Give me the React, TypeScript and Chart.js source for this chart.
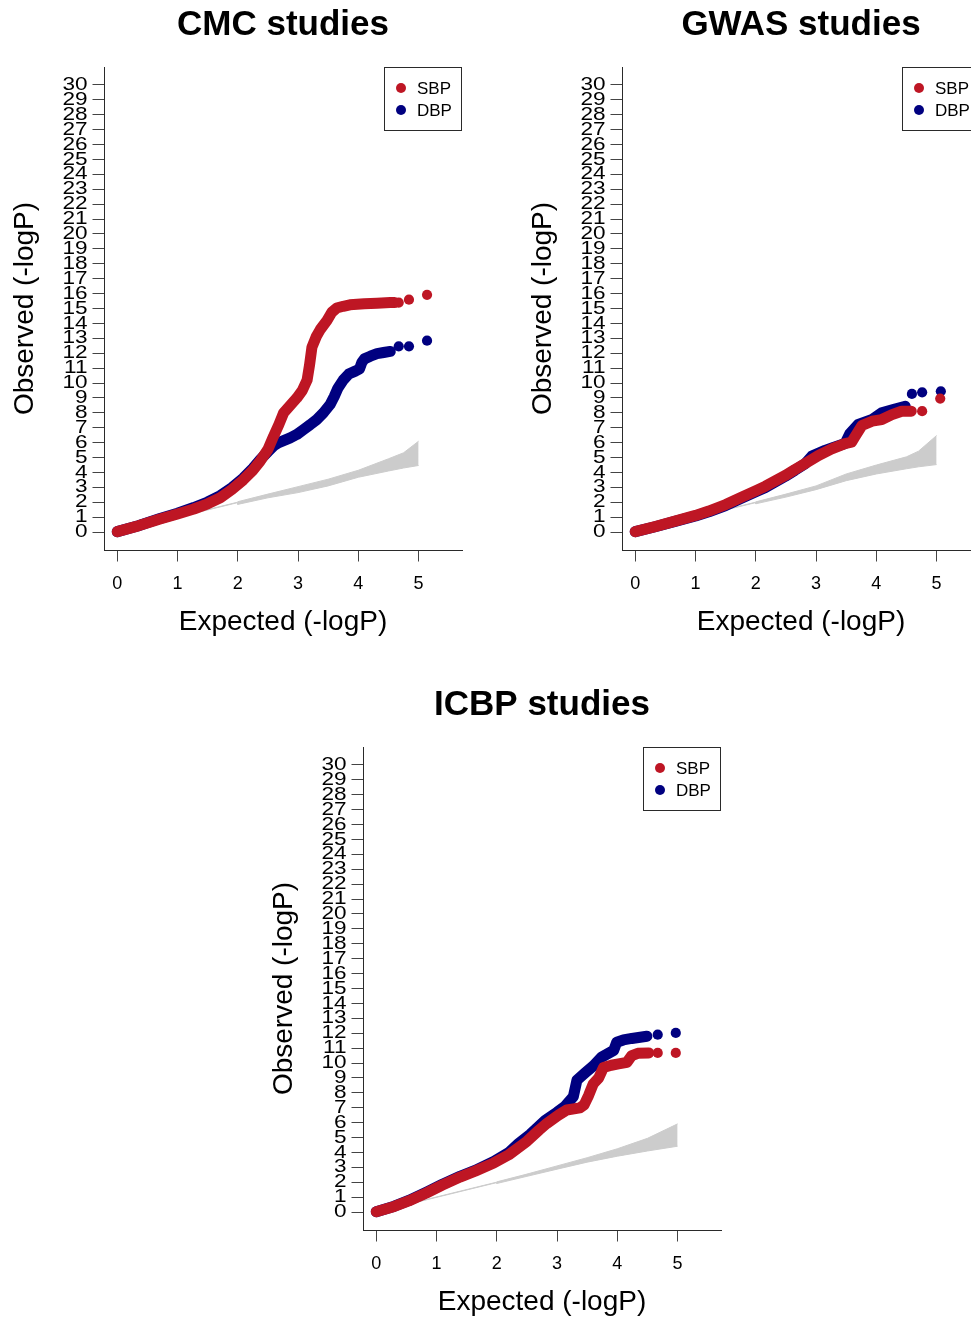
import React, { useEffect, useRef } from 'react';
import { Chart, registerables } from 'chart.js';

Chart.register(...registerables);

type Pt = [number, number];

const FONT = '"Liberation Sans", Arial, Helvetica, sans-serif';
const RED = 'rgb(190,22,36)';
const NAVY = 'rgb(0,0,128)';
const BAND = 'rgb(204,204,204)';
const AXIS = '#2a2a2a';

const X_TICKS = [0, 1, 2, 3, 4, 5];
const Y_TICKS = [0, 1, 2, 3, 4, 5, 6, 7, 8, 9, 10, 11, 12, 13, 14, 15, 16, 17, 18, 19, 20, 21, 22, 23, 24, 25, 26, 27, 28, 29, 30];
const SERIES_LABELS = ['SBP', 'DBP'];
const X_TITLE = 'Expected (-logP)';
const Y_TITLE = 'Observed (-logP)';

// ---- CMC studies ----
const CMC_SBP: Pt[] = [
  [0, 0.03], [0.35, 0.42], [0.71, 0.88], [1.0, 1.22], [1.27, 1.55], [1.5, 1.9], [1.71, 2.3],
  [1.9, 2.85], [2.09, 3.5], [2.25, 4.15], [2.37, 4.75], [2.5, 5.55], [2.59, 6.4], [2.68, 7.2],
  [2.76, 8.0], [2.87, 8.5], [2.98, 9.0], [3.07, 9.5], [3.15, 10.2], [3.19, 11.2], [3.23, 12.4],
  [3.3, 13.1], [3.37, 13.6], [3.48, 14.2], [3.56, 14.75], [3.64, 15.03], [3.75, 15.15],
  [3.86, 15.25], [4.1, 15.32], [4.31, 15.36], [4.53, 15.4], [4.6, 15.4],
];
const CMC_SBP_TAIL: Pt[] = [[4.67, 15.4], [4.84, 15.59], [5.14, 15.92]];
const CMC_DBP: Pt[] = [
  [0, 0.03], [0.35, 0.43], [0.71, 0.92], [1.0, 1.27], [1.27, 1.65], [1.5, 2.02], [1.71, 2.45],
  [1.9, 2.98], [2.09, 3.62], [2.25, 4.28], [2.37, 4.85], [2.5, 5.4], [2.6, 5.8], [2.68, 6.0],
  [2.8, 6.2], [2.87, 6.32], [2.98, 6.55], [3.09, 6.88], [3.2, 7.2], [3.31, 7.55], [3.42, 8.0],
  [3.53, 8.55], [3.6, 9.1], [3.66, 9.65], [3.75, 10.2], [3.84, 10.6], [3.95, 10.8], [4.02, 10.95],
  [4.06, 11.4], [4.1, 11.62], [4.2, 11.8], [4.31, 11.97], [4.42, 12.05], [4.53, 12.12],
];
const CMC_DBP_TAIL: Pt[] = [[4.67, 12.46], [4.84, 12.46], [5.14, 12.84]];
const CMC_BAND_X = [0, 1.99, 2.0, 2.5, 3.0, 3.5, 4.0, 4.5, 4.75, 5.0];
const CMC_BAND_LO = [0, 1.97, 1.86, 2.3, 2.65, 3.1, 3.68, 4.1, 4.3, 4.47];
const CMC_BAND_HI = [0.02, 2.0, 2.04, 2.55, 3.05, 3.55, 4.15, 4.92, 5.32, 6.1];

// ---- GWAS studies ----
const GWAS_SBP: Pt[] = [
  [0, 0.03], [0.33, 0.37], [0.66, 0.74], [1.0, 1.12], [1.22, 1.41], [1.5, 1.85], [1.77, 2.35],
  [2.0, 2.78], [2.16, 3.08], [2.49, 3.8], [2.65, 4.2], [2.82, 4.6], [3.04, 5.14], [3.26, 5.58],
  [3.48, 5.94], [3.59, 6.03], [3.65, 6.43], [3.76, 7.15], [3.93, 7.44], [4.09, 7.55], [4.26, 7.88],
  [4.42, 8.11], [4.58, 8.11],
];
const GWAS_SBP_TAIL: Pt[] = [[4.76, 8.11], [5.06, 8.96]];
const GWAS_DBP: Pt[] = [
  [0, 0.03], [0.33, 0.36], [0.66, 0.72], [1.0, 1.08], [1.22, 1.36], [1.5, 1.78], [1.77, 2.28],
  [2.0, 2.7], [2.16, 3.0], [2.49, 3.75], [2.65, 4.15], [2.82, 4.6], [2.93, 5.1], [3.15, 5.48],
  [3.3, 5.7], [3.48, 5.94], [3.56, 6.6], [3.7, 7.23], [3.93, 7.55], [4.09, 8.0], [4.31, 8.26],
  [4.48, 8.44],
];
const GWAS_DBP_TAIL: Pt[] = [[4.59, 9.27], [4.76, 9.38], [5.07, 9.45]];
const GWAS_BAND_X = [0, 1.99, 2.0, 2.5, 3.0, 3.5, 4.0, 4.5, 4.7, 5.0];
const GWAS_BAND_LO = [0, 1.97, 1.9, 2.35, 2.85, 3.45, 3.9, 4.25, 4.38, 4.53];
const GWAS_BAND_HI = [0.02, 2.0, 2.03, 2.55, 3.1, 3.9, 4.5, 5.05, 5.43, 6.48];

// ---- ICBP studies ----
const ICBP_SBP: Pt[] = [
  [0, 0.03], [0.3, 0.38], [0.54, 0.75], [0.84, 1.3], [1.09, 1.8], [1.39, 2.35], [1.64, 2.75],
  [1.95, 3.3], [2.2, 3.85], [2.5, 4.75], [2.7, 5.5], [2.83, 5.95], [3.02, 6.5], [3.16, 6.85],
  [3.38, 6.99], [3.45, 7.2], [3.52, 7.8], [3.6, 8.6], [3.69, 9.0], [3.77, 9.7], [3.9, 9.85],
  [4.02, 9.94], [4.16, 10.05], [4.24, 10.5], [4.34, 10.65], [4.52, 10.68],
];
const ICBP_SBP_TAIL: Pt[] = [[4.67, 10.68], [4.97, 10.68]];
const ICBP_DBP: Pt[] = [
  [0, 0.03], [0.3, 0.4], [0.54, 0.78], [0.84, 1.35], [1.09, 1.85], [1.39, 2.4], [1.64, 2.8],
  [1.95, 3.4], [2.2, 4.0], [2.36, 4.6], [2.55, 5.2], [2.8, 6.14], [3.0, 6.7], [3.13, 7.1],
  [3.27, 7.75], [3.33, 8.85], [3.47, 9.35], [3.6, 9.8], [3.74, 10.4], [3.94, 10.85], [3.99, 11.4],
  [4.1, 11.55], [4.24, 11.65], [4.49, 11.8],
];
const ICBP_DBP_TAIL: Pt[] = [[4.67, 11.9], [4.97, 12.02]];
const ICBP_BAND_X = [0, 1.99, 2.0, 2.5, 3.0, 3.5, 4.0, 4.5, 5.0];
const ICBP_BAND_LO = [0, 1.97, 1.92, 2.4, 2.88, 3.35, 3.75, 4.1, 4.42];
const ICBP_BAND_HI = [0.02, 2.0, 2.03, 2.55, 3.1, 3.65, 4.25, 4.95, 5.92];

interface PanelSpec {
  title: string;
  sbp: Pt[];
  sbpTail: Pt[];
  dbp: Pt[];
  dbpTail: Pt[];
  bandX: number[];
  bandLo: number[];
  bandHi: number[];
}

const PANELS: { spec: PanelSpec; left: number; top: number }[] = [
  {
    spec: { title: 'CMC studies', sbp: CMC_SBP, sbpTail: CMC_SBP_TAIL, dbp: CMC_DBP, dbpTail: CMC_DBP_TAIL, bandX: CMC_BAND_X, bandLo: CMC_BAND_LO, bandHi: CMC_BAND_HI },
    left: 0, top: 0,
  },
  {
    spec: { title: 'GWAS studies', sbp: GWAS_SBP, sbpTail: GWAS_SBP_TAIL, dbp: GWAS_DBP, dbpTail: GWAS_DBP_TAIL, bandX: GWAS_BAND_X, bandLo: GWAS_BAND_LO, bandHi: GWAS_BAND_HI },
    left: 518, top: 0,
  },
  {
    spec: { title: 'ICBP studies', sbp: ICBP_SBP, sbpTail: ICBP_SBP_TAIL, dbp: ICBP_DBP, dbpTail: ICBP_DBP_TAIL, bandX: ICBP_BAND_X, bandLo: ICBP_BAND_LO, bandHi: ICBP_BAND_HI },
    left: 259, top: 680,
  },
];

const W = 518;
const H = 680;
const TICK_LEN = 11.5;
const Y_LABEL_GAP = 5;
const Y_LABEL_STRETCH = 1.22;

const xy = (pts: Pt[]) => pts.map(([x, y]) => ({ x, y }));
const zipXY = (xs: number[], ys: number[]) => xs.map((x, i) => ({ x, y: ys[i] }));

// Boxed legend in the top-right corner of the plotting region
const boxLegend = {
  id: 'boxLegend',
  afterDatasetsDraw(chart: any, _args: any, opts: any) {
    const { ctx, chartArea } = chart;
    const items: { label: string; color: string }[] = opts.items || [];
    const w = 78;
    const h = 64;
    const x0 = chartArea.right - w;
    const y0 = chartArea.top;
    ctx.save();
    ctx.fillStyle = '#fff';
    ctx.fillRect(x0, y0, w, h);
    ctx.strokeStyle = AXIS;
    ctx.lineWidth = 1;
    ctx.strokeRect(x0 + 0.5, y0 + 0.5, w - 1, h - 1);
    ctx.font = `17px ${FONT}`;
    ctx.textBaseline = 'middle';
    ctx.textAlign = 'left';
    items.forEach((it, i) => {
      const cy = y0 + 21 + i * 22;
      ctx.beginPath();
      ctx.arc(x0 + 17, cy, 5, 0, Math.PI * 2);
      ctx.fillStyle = it.color;
      ctx.fill();
      ctx.fillStyle = '#000';
      ctx.fillText(it.label, x0 + 33, cy + 1);
    });
    ctx.restore();
  },
};

// Horizontal, slightly widened y tick labels placed at the y scale's own tick positions
const wideYLabels = {
  id: 'wideYLabels',
  afterDraw(chart: any) {
    const { ctx } = chart;
    const s = chart.scales.y;
    ctx.save();
    ctx.font = `18.5px ${FONT}`;
    ctx.fillStyle = '#000';
    ctx.textAlign = 'right';
    ctx.textBaseline = 'middle';
    const xr = s.right - TICK_LEN - Y_LABEL_GAP;
    s.ticks.forEach((t: any) => {
      const py = s.getPixelForValue(t.value);
      ctx.save();
      ctx.translate(xr, py);
      ctx.scale(Y_LABEL_STRETCH, 1);
      ctx.fillText(String(t.value), 0, 0);
      ctx.restore();
    });
    ctx.restore();
  },
};

function buildConfig(spec: PanelSpec): any {
  const body = (pts: Pt[], color: string, order: number, label: string) => ({
    label,
    data: xy(pts),
    showLine: true,
    borderColor: color,
    backgroundColor: color,
    borderWidth: 11,
    borderCapStyle: 'round',
    borderJoinStyle: 'round',
    pointRadius: 0,
    tension: 0,
    order,
  });
  const tail = (pts: Pt[], color: string, order: number, label: string) => ({
    label,
    data: xy(pts),
    showLine: false,
    backgroundColor: color,
    borderColor: color,
    pointRadius: 5.1,
    pointBorderWidth: 0,
    order,
  });
  return {
    type: 'scatter',
    data: {
      datasets: [
        {
          label: 'lower',
          data: zipXY(spec.bandX, spec.bandLo),
          showLine: true,
          borderColor: BAND,
          borderWidth: 1,
          pointRadius: 0,
          fill: false,
          order: 10,
        },
        {
          label: 'upper',
          data: zipXY(spec.bandX, spec.bandHi),
          showLine: true,
          borderColor: BAND,
          backgroundColor: BAND,
          borderWidth: 1,
          pointRadius: 0,
          fill: '-1',
          order: 9,
        },
        body(spec.dbp, NAVY, 5, SERIES_LABELS[1]),
        tail(spec.dbpTail, NAVY, 4, SERIES_LABELS[1]),
        body(spec.sbp, RED, 2, SERIES_LABELS[0]),
        tail(spec.sbpTail, RED, 1, SERIES_LABELS[0]),
      ],
    },
    options: {
      responsive: false,
      animation: false,
      devicePixelRatio: 1,
      layout: { padding: { left: 0, right: 56, top: 0, bottom: 0 } },
      plugins: {
        legend: { display: false },
        tooltip: { enabled: false },
        title: {
          display: true,
          text: spec.title,
          fullSize: false,
          color: '#000',
          font: { family: FONT, size: 35, weight: 'bold' },
          padding: { top: 4, bottom: 21 },
        },
        boxLegend: {
          items: [
            { label: SERIES_LABELS[0], color: RED },
            { label: SERIES_LABELS[1], color: NAVY },
          ],
        },
      },
      scales: {
        x: {
          type: 'linear',
          min: -0.22,
          max: 5.72,
          afterBuildTicks: (s: any) => {
            s.ticks = X_TICKS.map((v) => ({ value: v }));
          },
          afterFit: (s: any) => {
            s.height = 130;
          },
          ticks: {
            autoSkip: false,
            maxRotation: 0,
            padding: 11.5,
            color: '#000',
            font: { family: FONT, size: 18 },
          },
          grid: { drawOnChartArea: false, drawTicks: true, tickLength: TICK_LEN, color: '#444', lineWidth: 1 },
          border: { display: true, color: AXIS, width: 1 },
          title: {
            display: true,
            text: X_TITLE,
            color: '#000',
            font: { family: FONT, size: 28 },
            padding: { top: 0, bottom: 41 },
          },
        },
        y: {
          type: 'linear',
          min: -1.2,
          max: 31.2,
          afterBuildTicks: (s: any) => {
            s.ticks = Y_TICKS.map((v) => ({ value: v }));
          },
          afterFit: (s: any) => {
            s.width = 104;
          },
          ticks: {
            display: false,
            autoSkip: false,
          },
          grid: { drawOnChartArea: false, drawTicks: true, tickLength: TICK_LEN, color: '#444', lineWidth: 1 },
          border: { display: true, color: AXIS, width: 1 },
          title: {
            display: true,
            text: Y_TITLE,
            color: '#000',
            font: { family: FONT, size: 28 },
            padding: { top: 8.5, bottom: 0 },
          },
        },
      },
    },
    plugins: [boxLegend, wideYLabels],
  };
}

function QQPanel({ spec, left, top }: { spec: PanelSpec; left: number; top: number }) {
  const ref = useRef<HTMLCanvasElement | null>(null);
  useEffect(() => {
    if (!ref.current) return;
    const chart = new Chart(ref.current, buildConfig(spec));
    return () => chart.destroy();
  }, [spec]);
  return (
    <canvas
      ref={ref}
      width={W}
      height={H}
      style={{ position: 'absolute', left, top, width: W, height: H, display: 'block' }}
    />
  );
}

export default function App() {
  return (
    <div
      style={{
        position: 'absolute',
        left: 0,
        top: 0,
        width: 971,
        height: 1321,
        overflow: 'hidden',
        background: '#fff',
      }}
    >
      {PANELS.map((p) => (
        <QQPanel key={p.spec.title} spec={p.spec} left={p.left} top={p.top} />
      ))}
    </div>
  );
}
